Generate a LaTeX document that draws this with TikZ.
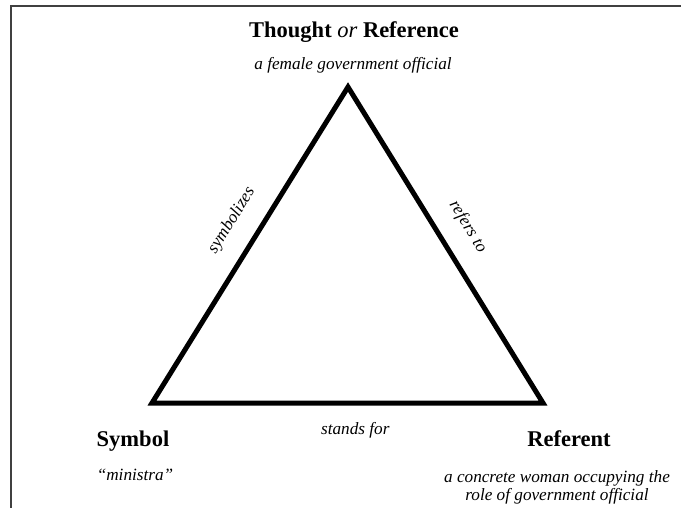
\documentclass[tikz,border=0pt]{standalone}
\usepackage{fontspec}
\setmainfont{Liberation Serif}
\usetikzlibrary{positioning}

\tikzset{
  corner name/.style={font=\fontsize{22.5}{27}\selectfont\bfseries, anchor=base, inner sep=0pt},
  gloss/.style={font=\fontsize{17.2}{17.5}\selectfont\itshape, anchor=base, inner sep=0pt, align=center},
  side label/.style={font=\fontsize{17.2}{18}\selectfont\itshape, inner sep=0pt, sloped},
  side/.style={line width=5pt, line join=miter},
  frame/.style={draw=black!75, line width=1.2pt}
}

\begin{document}
\begin{tikzpicture}[x=1pt, y=-1pt]
  \useasboundingbox (0,0) rectangle (681,508);
  \draw[frame] (11,508) -- (11,6) -- (681,6);

  % corners of the triangle
  \coordinate (thought) at (348,87);
  \coordinate (symbol) at (152,403);
  \coordinate (referent) at (543,403);

  \draw[side] (symbol)
      -- node[side label, pos=.53, above=18pt] {symbolizes} (thought)
      -- node[side label, pos=.49, above=18pt] {refers to} (referent)
      -- node[side label, pos=.48, below=17pt] {stands for} cycle;

  % names and glosses
  \node[corner name] (thoughtname) at (354,38) {Thought {\mdseries\itshape or} Reference};
  \node[gloss] (thoughtgloss) at (353,70) {a female government official};
  \node[corner name] (symbolname) at (133,446) {Symbol};
  \node[gloss] (symbolgloss) at (135,480) {``ministra''};
  \node[corner name] (referentname) at (569,446) {Referent};
  \node[gloss] (referentgloss) at (557,500) {a concrete woman occupying the\\role of government official};
\end{tikzpicture}
\end{document}
